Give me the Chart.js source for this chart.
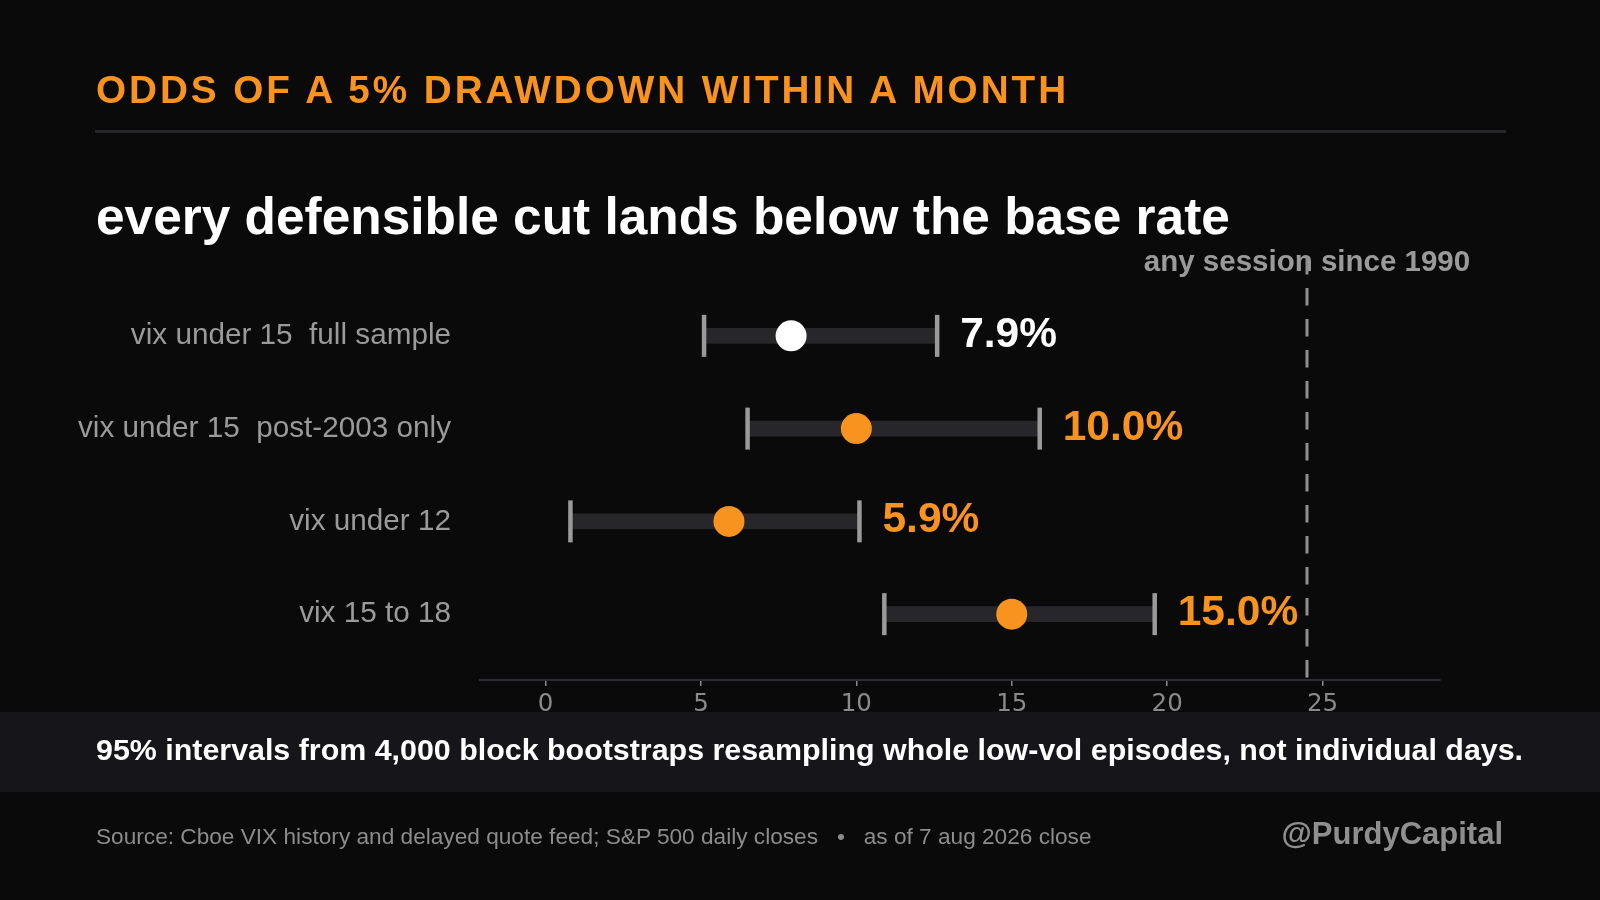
<!DOCTYPE html>
<html>
<head>
<meta charset="utf-8">
<title>Odds of a 5% drawdown within a month</title>
<script src="https://cdn.jsdelivr.net/npm/chart.js@4.4.1/dist/chart.umd.min.js"></script>
<style>
  html, body { margin: 0; padding: 0; background: #0a0a0a; }
  #page { position: relative; width: 1600px; height: 900px; overflow: hidden; background: #0a0a0a;
          font-family: 'Liberation Sans', Arial, Helvetica, sans-serif; }
  #page > * { position: absolute; margin: 0; white-space: pre; line-height: 1; }
  #chart { left: 0; top: 0; z-index: 1; }
  .title { left: 96px; top: 71px; font-size: 38.7px; font-weight: 700; color: #f7931e; letter-spacing: 2.95px; z-index: 2; }
  .rule { left: 95px; top: 130px; width: 1411px; height: 3px; background: #25252b; }
  .subtitle { left: 96px; top: 191px; font-size: 51.4px; font-weight: 700; color: #ffffff; z-index: 2; }
  .band { left: 0; top: 712px; width: 1600px; height: 80px; background: #15151a; z-index: 0; }
  .note { left: 96px; top: 734px; font-size: 30.4px; font-weight: 700; color: #ffffff; z-index: 2; }
  .source { left: 96px; top: 825px; font-size: 22.65px; color: #8c8c8c; z-index: 2; }
  .handle { right: 97px; top: 818px; font-size: 31px; font-weight: 700; color: #8f8f8f; z-index: 2; }
</style>
</head>
<body>
<div id="page">
  <div class="band"></div>
  <div class="title">ODDS OF A 5% DRAWDOWN WITHIN A MONTH</div>
  <div class="rule"></div>
  <div class="subtitle">every defensible cut lands below the base rate</div>
  <canvas id="chart" width="1600" height="900"></canvas>
  <div class="note">95% intervals from 4,000 block bootstraps resampling whole low-vol episodes, not individual days.</div>
  <div class="source">Source: Cboe VIX history and delayed quote feed; S&amp;P 500 daily closes   •   as of 7 aug 2026 close</div>
  <div class="handle">@PurdyCapital</div>
</div>
<script>
// ---- data ----
const categories = ['vix under 15  full sample', 'vix under 15  post-2003 only', 'vix under 12', 'vix 15 to 18'];
const lowValues = [5.1, 6.5, 0.8, 10.9];
const pointValues = [7.9, 10.0, 5.9, 15.0];
const highValues = [12.6, 15.9, 10.1, 19.6];
const baseRate = 24.5;
const baseRateLabel = 'any session since 1990';
const xTicks = [0, 5, 10, 15, 20, 25];

const ORANGE = '#f7931e';
const rowColors = ['#ffffff', ORANGE, ORANGE, ORANGE];
const SANS = "'Liberation Sans', Arial, Helvetica, sans-serif";

Chart.defaults.font.family = SANS;

const rows = categories.map((_, i) => i);

// dashed base-rate line with its label
const baseRatePlugin = {
    id: 'baseRate',
    beforeDatasetsDraw(chart) {
        const { ctx, chartArea, scales } = chart;
        const x = scales.x.getPixelForValue(baseRate);
        ctx.save();
        ctx.font = `700 29.5px ${SANS}`;
        ctx.fillStyle = '#9a9a9a';
        ctx.textAlign = 'center';
        ctx.textBaseline = 'alphabetic';
        ctx.fillText(baseRateLabel, x, chartArea.top + 14);
        ctx.strokeStyle = '#8f8f8f';
        ctx.lineWidth = 3;
        ctx.setLineDash([17.5, 13.5]);
        ctx.beginPath();
        ctx.moveTo(x, chartArea.top);
        ctx.lineTo(x, chartArea.bottom);
        ctx.stroke();
        ctx.restore();
    },
};

// point estimate printed to the right of each interval
const valueLabelPlugin = {
    id: 'valueLabels',
    afterDatasetsDraw(chart) {
        const { ctx, scales } = chart;
        ctx.save();
        ctx.font = `700 42.5px ${SANS}`;
        ctx.textAlign = 'left';
        ctx.textBaseline = 'alphabetic';
        rows.forEach(i => {
            ctx.fillStyle = rowColors[i];
            const x = scales.x.getPixelForValue(highValues[i]) + 23;
            const y = scales.y.getPixelForValue(i) + 11;
            ctx.fillText(pointValues[i].toFixed(1) + '%', x, y);
        });
        ctx.restore();
    },
};

new Chart(document.getElementById('chart'), {
    type: 'bar',
    data: {
        datasets: [
            {
                type: 'bar',
                data: rows.map(i => ({ x: [lowValues[i], highValues[i]], y: i })),
                backgroundColor: '#26262b',
                barThickness: 15,
                borderWidth: 0,
                order: 3,
            },
            {
                type: 'scatter',
                data: rows.flatMap(i => [{ x: lowValues[i], y: i }, { x: highValues[i], y: i }]),
                pointStyle: 'line',
                rotation: 90,
                pointRadius: 21,
                borderColor: '#9a9a9a',
                borderWidth: 4.5,
                order: 2,
            },
            {
                type: 'scatter',
                data: rows.map(i => ({ x: pointValues[i], y: i })),
                pointRadius: 15.5,
                backgroundColor: rowColors,
                borderWidth: 0,
                order: 1,
            },
        ],
    },
    options: {
        responsive: false,
        animation: false,
        events: [],
        indexAxis: 'y',
        layout: { padding: { top: 257, left: 0, right: 160, bottom: 180 } },
        plugins: { legend: { display: false }, tooltip: { enabled: false } },
        scales: {
            x: {
                type: 'linear',
                position: 'bottom',
                offset: false,
                min: -2.11,
                max: 28.78,
                afterBuildTicks: (scale) => { scale.ticks = xTicks.map(v => ({ value: v })); },
                afterFit: (scale) => { scale.height = 40; },
                grid: { display: true, offset: false, drawOnChartArea: false, drawTicks: true, tickLength: 6, color: '#8a8a8a', lineWidth: 1.5 },
                border: { display: true, color: '#2c2c33', width: 2 },
                ticks: {
                    autoSkip: false,
                    maxRotation: 0,
                    padding: 4,
                    color: '#8a8a8a',
                    font: { family: "'DejaVu Sans', sans-serif", size: 24.5 },
                },
            },
            y: {
                type: 'linear',
                position: 'left',
                offset: false,
                reverse: true,
                min: -0.85,
                max: 3.71,
                afterBuildTicks: (scale) => { scale.ticks = rows.map(v => ({ value: v })); },
                afterFit: (scale) => { scale.width = 480; },
                grid: { display: false, offset: false, drawTicks: false },
                border: { display: false },
                ticks: {
                    autoSkip: false,
                    padding: 29,
                    color: '#9a9a9a',
                    font: { family: SANS, size: 29.7 },
                    callback: (v) => categories[v] ?? '',
                },
            },
        },
    },
    plugins: [baseRatePlugin, valueLabelPlugin],
});
</script>
</body>
</html>
